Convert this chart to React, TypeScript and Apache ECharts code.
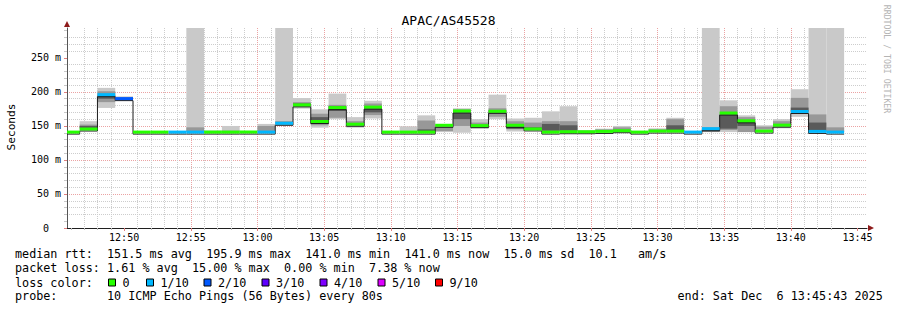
import React, { useEffect, useRef } from 'react';
import * as echarts from 'echarts';

// ---------- data ----------
const TITLE = 'APAC/AS45528';
const T_MIN = 45943; // 12:45:43 (seconds of day)
const T_MAX = 49543; // 13:45:43
const FIRST_STEP_START = 45920; // 80 s steps aligned on the clock
const STEP_SECONDS = 80;
const Y_MAX = 294;

const majorTimeLabels = ['12:50', '12:55', '13:00', '13:05', '13:10', '13:15', '13:20', '13:25', '13:30', '13:35', '13:40', '13:45'];
const yMajorTicks = [0, 50, 100, 150, 200, 250];

// median rtt (ms) per 80 s step
const median = [141, 145.5, 196, 190.2, 141, 141, 141, 141, 141, 141, 141, 141, 154, 181, 156.6, 177, 152.6, 177.7, 141, 141, 141, 151, 172, 150.5, 171.6, 150.9, 145.6, 141, 141.5, 141.5, 142, 143, 141, 142.5, 142.5, 141, 146, 169, 157.6, 142.5, 151.2, 171.3, 142, 141];
// loss level index (0 = 0, 1 = 1/10, 2 = 2/10 ...)
const lossLevel = [0, 0, 1, 2, 0, 0, 1, 1, 0, 0, 0, 1, 1, 0, 0, 0, 0, 0, 0, 0, 0, 0, 0, 0, 0, 0, 0, 0, 0, 0, 0, 0, 0, 0, 0, 1, 1, 0, 0, 0, 0, 1, 1, 1];

// smoke (ping spread) bands
const outerLo = [140.3, 143, 176.5, 187, 140.3, 140.3, 140.3, 141, 140.3, 140.3, 140.3, 141, 151, 175.5, 147.5, 160, 147.5, 161, 140.3, 141, 141, 141, 140, 146, 160, 142, 143.5, 141, 142, 141, 141, 141, 140.3, 142, 141, 140.3, 141, 141, 141, 143.5, 146.5, 163.4, 141, 141];
const outerHi = [142, 157, 206, 193.5, 141.8, 141.8, 141.8, 400, 143.5, 150, 141.8, 153, 400, 191, 174.5, 197.6, 163, 187, 142, 149.5, 165.6, 152, 176, 160, 196, 161, 162, 171.5, 179, 144, 146, 150, 142.5, 146.5, 162, 142.5, 400, 187.7, 165.6, 151, 160, 204, 400, 400];
const midLo = [null, 146, 185, 188.5, null, null, null, 141, null, 140.5, null, 142, 151, 178, 151, 162, 149, 166, null, null, 143, 142.5, 150, 148, 163.5, 145, 145, 142, 143, null, 142, 142, null, 143, 142, null, 141, 144, 141, 145, 148, 168, 141, 141];
const midHi = [null, 152, 201, 192, null, null, null, 148, null, 143, null, 150, 157, 185, 168, 181, 157, 183, null, null, 158, 150.5, 174.5, 155, 176, 157, 155, 157, 157, null, 145, 148, null, 145, 160, null, 148, 179, 163, 149, 157, 191.3, 167, 148];
const coreLo = [null, 147, 190, null, null, null, null, null, null, null, null, null, null, 179.5, 153, 172, null, 170, null, null, 142, null, 160, null, 168, 146, 145, 143, 143, null, null, null, null, null, 143, null, 142, 146, 150, null, null, 171, 143, null];
const coreHi = [null, 150, 195, null, null, null, null, null, null, null, null, null, null, 183, 163, 179, null, 178, null, null, 145, null, 170, null, 173, 151, 148, 153, 151, null, null, null, null, null, 151, null, 145, 168, 157, null, null, 177, 155, null];

const lossColors = ['#26ff00', '#00b8ff', '#0059ff', '#5e00ff', '#7e00ff', '#dd00ff', '#ff0000'];
const lossLabels = ['0', '1/10', '2/10', '3/10', '4/10', '5/10', '9/10'];

const rttTexts = ['median rtt:', '151.5 ms avg', '195.9 ms max', '141.0 ms min', '141.0 ms now', '15.0 ms sd', '10.1', 'am/s'];
const lossTexts = ['packet loss:', '1.61 % avg', '15.00 % max', '0.00 % min', '7.38 % now'];
const probeTexts = ['probe:', '10 ICMP Echo Pings (56 Bytes) every 80s'];
const endTexts = ['end: Sat Dec', '6 13:45:43 2025'];
const lossColorTitle = 'loss color:';
const creditText = 'RRDTOOL / TOBI OETIKER';
const yAxisTitle = 'Seconds';

// ---------- layout ----------
const FONT = 'DejaVu Sans Mono';
const CHAR_W = 7.08;
const LEGEND_X = 15;
const LEGEND_FS = 11.75;
const rowY = [254.3, 268.3, 282.5, 296.3];
const rttCols = [0, 13, 27, 41, 55, 69, 81, 88];
const lossCols = [0, 13, 25, 38, 50];
const probeCols = [0, 13];
const END_X = 677.5;
const endCols = [0, 14];
const legendBoxX = [108, 146, 203.5, 261.5, 319.5, 377.5, 435];

const fmtTime = (v: number) => {
  const h = Math.floor(v / 3600);
  const m = Math.floor((v % 3600) / 60);
  return `${h}:${String(m).padStart(2, '0')}`;
};
const parseTime = (s: string) => {
  const [h, m] = s.split(':').map(Number);
  return h * 3600 + m * 60;
};

function buildOption() {
  const majorX = majorTimeLabels.map(parseTime);
  const minorX: number[] = [];
  for (let s = Math.ceil(T_MIN / 60) * 60; s <= T_MAX; s += 60) if (s % 300 !== 0) minorX.push(s);
  const minorY: number[] = [];
  for (let v = 10; v < Y_MAX; v += 10) if (v % 50 !== 0) minorY.push(v);

  const stepStart = (i: number) => FIRST_STEP_START + STEP_SECONDS * i;
  const clip = (r: any, cs: any) =>
    echarts.graphic.clipRectByRect(r, { x: cs.x, y: cs.y, width: cs.width, height: cs.height });

  const bandData = (lo: (number | null)[], hi: (number | null)[]) =>
    lo.map((l, i) => (l == null ? null : [stepStart(i), stepStart(i + 1), l, hi[i]])).filter((d) => d);

  const bandSeries = (lo: any[], hi: any[], color: string) => ({
    type: 'custom',
    xAxisIndex: 1,
    yAxisIndex: 1,
    silent: true,
    encode: { x: [0, 1], y: [2, 3] },
    data: bandData(lo, hi),
    renderItem: (params: any, api: any) => {
      const a = api.coord([api.value(0), api.value(3)]);
      const b = api.coord([api.value(1), api.value(2)]);
      const shape = clip({ x: a[0], y: a[1], width: b[0] - a[0], height: b[1] - a[1] }, params.coordSys);
      if (!shape) return null;
      return { type: 'rect', shape, style: { fill: color } };
    },
  });

  const medianBand = {
    type: 'custom',
    xAxisIndex: 1,
    yAxisIndex: 1,
    silent: true,
    encode: { x: [0, 1], y: 2 },
    data: median.map((m, i) => [stepStart(i), stepStart(i + 1), m, lossLevel[i]]),
    renderItem: (params: any, api: any) => {
      const a = api.coord([api.value(0), api.value(2)]);
      const b = api.coord([api.value(1), api.value(2)]);
      const shape = clip({ x: a[0], y: a[1] - 1.5, width: b[0] - a[0], height: 3 }, params.coordSys);
      if (!shape) return null;
      return { type: 'rect', shape, style: { fill: lossColors[api.value(3)] } };
    },
  };

  const medianLine = {
    type: 'custom',
    xAxisIndex: 1,
    yAxisIndex: 1,
    silent: true,
    encode: { x: [0, 1], y: 2 },
    data: median.map((m, i) => [stepStart(i), stepStart(i + 1), m, i > 0 ? median[i - 1] : m]),
    renderItem: (params: any, api: any) => {
      const cs = params.coordSys;
      const a = api.coord([api.value(0), api.value(2)]);
      const b = api.coord([api.value(1), api.value(2)]);
      const p = api.coord([api.value(0), api.value(3)]);
      const y = a[1] + 2;
      const yp = p[1] + 2;
      const x0 = Math.max(a[0], cs.x);
      const style = { stroke: '#1a1a1a', lineWidth: 1 };
      const children: any[] = [{ type: 'line', shape: { x1: x0, y1: y, x2: b[0], y2: y }, style }];
      if (a[0] >= cs.x && Math.abs(yp - y) > 0.5) {
        children.push({ type: 'line', shape: { x1: a[0], y1: yp, x2: a[0], y2: y }, style });
      }
      return { type: 'group', children };
    },
  };

  const graphics: any[] = [];
  const txt = (text: string, x: number, y: number, extra: any = {}) =>
    graphics.push({
      type: 'text',
      x,
      y,
      silent: true,
      style: { text, fontFamily: FONT, fontSize: LEGEND_FS, fill: '#000', textVerticalAlign: 'middle', verticalAlign: 'middle', ...extra },
    });

  rttTexts.forEach((t, i) => txt(t, LEGEND_X + rttCols[i] * CHAR_W, rowY[0]));
  lossTexts.forEach((t, i) => txt(t, LEGEND_X + lossCols[i] * CHAR_W, rowY[1]));
  txt(lossColorTitle, LEGEND_X, rowY[2]);
  lossLabels.forEach((l, i) => {
    graphics.push({
      type: 'rect',
      silent: true,
      shape: { x: legendBoxX[i] + 0.5, y: rowY[2] - 3.5, width: 7, height: 7 },
      style: { fill: lossColors[i], stroke: '#000', lineWidth: 1 },
    });
    txt(l, legendBoxX[i] + 14.5, rowY[2]);
  });
  probeTexts.forEach((t, i) => txt(t, LEGEND_X + probeCols[i] * CHAR_W, rowY[3]));
  endTexts.forEach((t, i) => txt(t, END_X + endCols[i] * CHAR_W, rowY[3]));

  // title, axis title, credit
  graphics.push({
    type: 'text', x: 448.5, y: 20, silent: true,
    style: { text: TITLE, fontFamily: FONT, fontSize: 13, fill: '#000', align: 'center', verticalAlign: 'middle' },
  });
  graphics.push({
    type: 'text', x: 11, y: 127, rotation: Math.PI / 2, silent: true,
    style: { text: yAxisTitle, fontFamily: FONT, fontSize: 11.2, fill: '#000', align: 'center', verticalAlign: 'middle' },
  });
  graphics.push({
    type: 'text', x: 887, y: 59, rotation: -Math.PI / 2, silent: true,
    style: { text: creditText, fontFamily: FONT, fontSize: 8.2, fill: '#b4b4b4', align: 'center', verticalAlign: 'middle' },
  });
  // axis arrows
  graphics.push({
    type: 'polygon', silent: true,
    shape: { points: [[64, 27], [67, 21], [70, 27]] },
    style: { fill: '#8e1b1b' },
  });
  graphics.push({
    type: 'polygon', silent: true,
    shape: { points: [[868, 225], [874, 228], [868, 231]] },
    style: { fill: '#8e1b1b' },
  });

  const minorGrid = { color: '#cdcdcd', type: [1, 1], width: 1 };
  const majorGrid = { color: '#eba3a3', type: [1, 1], width: 1 };

  return {
    animation: false,
    backgroundColor: '#ffffff',
    grid: { left: 67, top: 28, width: 800, height: 200, containLabel: false, outerBoundsMode: 'none' },
    xAxis: [
      {
        type: 'value', min: T_MIN, max: T_MAX, position: 'bottom',
        axisLine: { show: false },
        axisTick: { show: true, customValues: minorX, length: 2, lineStyle: { color: '#bbbbbb' } },
        axisLabel: { show: false },
        splitLine: { show: true, showMinLine: false, showMaxLine: false, lineStyle: minorGrid },
      },
      {
        type: 'value', min: T_MIN, max: T_MAX, position: 'bottom',
        axisLine: { show: true, lineStyle: { color: '#1f1f1f', width: 1 } },
        axisTick: { show: true, customValues: majorX, length: 3, lineStyle: { color: '#e08080' } },
        axisLabel: {
          show: true, customValues: majorX, formatter: (v: number) => fmtTime(v),
          fontFamily: FONT, fontSize: 10, color: '#000', margin: 4,
        },
        splitLine: { show: true, showMinLine: false, showMaxLine: false, lineStyle: majorGrid },
      },
    ],
    yAxis: [
      {
        type: 'value', min: 0, max: Y_MAX, position: 'left',
        axisLine: { show: false },
        axisTick: { show: true, customValues: minorY, length: 3, lineStyle: { color: '#c8c8c8' } },
        axisLabel: { show: false },
        splitLine: { show: true, showMinLine: false, showMaxLine: false, lineStyle: minorGrid },
      },
      {
        type: 'value', min: 0, max: Y_MAX, position: 'left',
        axisLine: { show: true, lineStyle: { color: '#555555', width: 1 } },
        axisTick: { show: true, customValues: yMajorTicks, length: 3, lineStyle: { color: '#e08080' } },
        axisLabel: {
          show: true, customValues: yMajorTicks,
          formatter: (v: number) => (v === 0 ? '{z|0}' : `${v} m`),
          rich: { z: { padding: [0, 12, 0, 0], fontFamily: FONT, fontSize: 10, color: '#000' } },
          fontFamily: FONT, fontSize: 10, color: '#000', margin: 6,
        },
        splitLine: { show: true, showMinLine: false, showMaxLine: false, lineStyle: majorGrid },
      },
    ],
    graphic: graphics,
    series: [
      bandSeries(outerLo, outerHi, '#c9c9c9'),
      bandSeries(midLo, midHi, '#989898'),
      bandSeries(coreLo, coreHi, '#5a5a5a'),
      medianLine,
      medianBand,
    ],
  };
}

export default function App() {
  const ref = useRef<HTMLDivElement>(null);
  useEffect(() => {
    document.body.style.margin = '0';
    const chart = echarts.init(ref.current as HTMLDivElement, null, { renderer: 'svg' });
    chart.setOption(buildOption() as any);
    return () => chart.dispose();
  }, []);
  return <div ref={ref} style={{ width: 897, height: 310, background: '#fff' }} />;
}
